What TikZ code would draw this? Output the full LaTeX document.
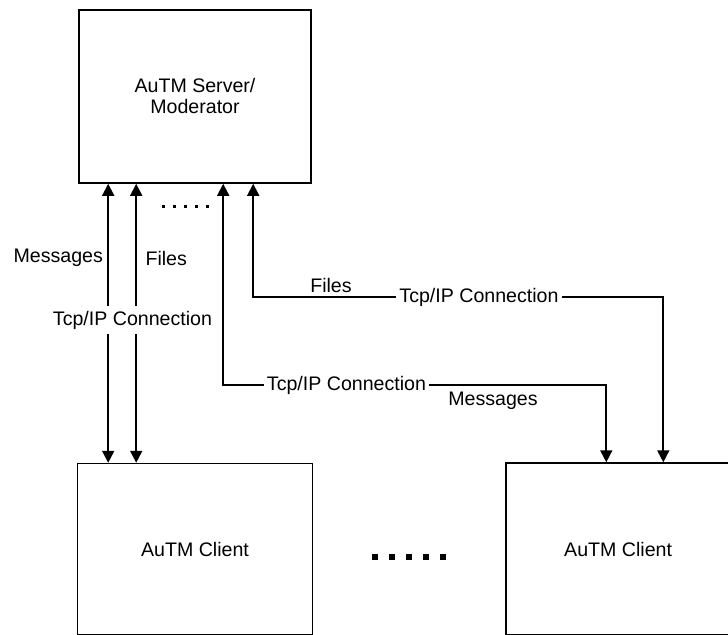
\documentclass[tikz,border=0pt]{standalone}
\usepackage{fontspec}
\setmainfont{Liberation Sans}
\usetikzlibrary{arrows.meta, positioning}

\begin{document}
\begin{tikzpicture}[
    x=0.5pt, y=-0.5pt,
    font=\fontsize{9.8}{10.5}\selectfont,
    box/.style={rectangle, draw, line width=0.8pt, align=center},
    arrow/.style={-{Triangle[length=6pt,width=6pt]}, line width=0.9pt},
    darrow/.style={{Triangle[length=6pt,width=6pt]}-{Triangle[length=6pt,width=6pt]}, line width=0.9pt},
    conn/.style={inner sep=1.5pt}
]
\useasboundingbox (0,0) rectangle (728,635);

% Server
\node[box, minimum width=116pt, minimum height=86.5pt] (srv) at (195,96.5) {AuTM Server/\\Moderator};

% Clients
\node[box, minimum width=117.5pt, minimum height=85.5pt, below=139.5pt of srv] (cl1) {AuTM Client};
\node[box, minimum width=112pt, minimum height=86pt, right=96pt of cl1] (cl2) {AuTM Client};

% Connection ends
\coordinate (s1) at ([xshift=15pt]srv.south west);
\coordinate (s2) at ([xshift=29pt]srv.south west);
\coordinate (s3) at ([xshift=72.5pt]srv.south west);
\coordinate (s4) at ([xshift=87.5pt]srv.south west);
\coordinate (c3) at ([xshift=50.5pt]cl2.north west);
\coordinate (c4) at ([xshift=79pt]cl2.north west);

% First client
\draw[darrow] (s1) -- (s1 |- cl1.north);
\draw[darrow] (s2) -- (s2 |- cl1.north);
\node[anchor=east] (msg1) at (110,258) {Messages};
\node[anchor=west] (fil1) at (138.5,258) {Files};
\node[fill=white, inner sep=2.5pt] (tcp1) at (132.5,320) {Tcp/IP Connection};

% Last client
\node[conn] (tcp2) at (479,297) {Tcp/IP Connection};
\draw[arrow] (tcp2.west) -| (s4);
\draw[arrow] (tcp2.east) -| (c4);
\node (fil2) at (331,285) {Files};

\node[conn] (tcp3) at (346.5,385) {Tcp/IP Connection};
\draw[arrow] (tcp3.west) -| (s3);
\draw[arrow] (tcp3.east) -| (c3);
\node (msg2) at (493,401) {Messages};

% Dots
\foreach \i in {0,...,4}
    \fill (163+11*\i-1.5,205.5) rectangle ++(3,3);
\foreach \i in {0,...,4}
    \fill (375+17*\i-3,554) rectangle ++(6,6);
\end{tikzpicture}
\end{document}
